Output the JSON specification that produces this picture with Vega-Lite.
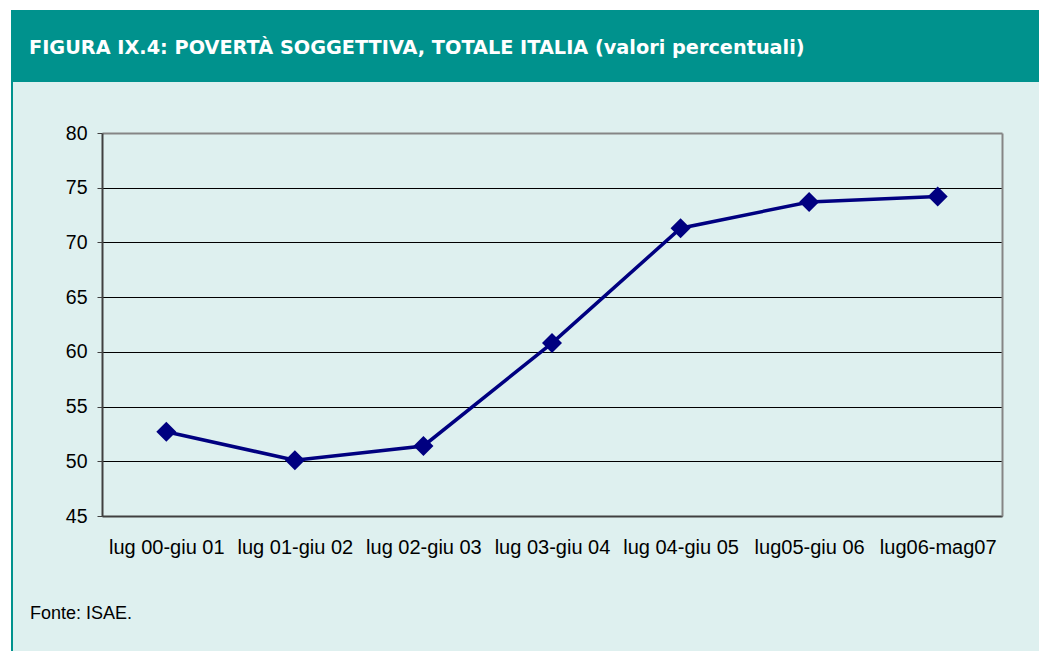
{
  "$schema": "https://vega.github.io/schema/vega-lite/v6.json",
  "background": "white",
  "padding": {"left": 11, "top": 10, "right": 0, "bottom": 0},
  "spacing": 0,
  "config": {"view": {"stroke": null}, "concat": {"spacing": 0}},
  "vconcat": [
    {
      "width": 1028,
      "height": 72,
      "view": {"fill": "#00928D", "stroke": null},
      "data": {"values": [{"t": "FIGURA IX.4: POVERTÀ SOGGETTIVA, TOTALE ITALIA (valori percentuali)"}]},
      "mark": {"type": "text", "align": "left", "baseline": "middle", "dx": 18, "dy": 2, "font": "DejaVu Sans", "fontWeight": "bold", "fontSize": 19.3, "color": "white"},
      "encoding": {
        "text": {"field": "t"},
        "x": {"datum": 0, "type": "quantitative", "scale": {"domain": [0, 1]}, "axis": null}
      }
    },
    {
      "spacing": 0,
      "hconcat": [
        {
          "width": 2,
          "height": 569,
          "view": {"fill": "#00928D", "stroke": null},
          "data": {"values": [{"a": 1}]},
          "mark": {"type": "text", "text": ""},
          "encoding": {}
        },
        {
          "width": 1026,
          "height": 569,
          "view": {"fill": "#DEF0EF", "stroke": null},
          "title": {"text": "Fonte: ISAE.", "orient": "bottom", "anchor": "start", "frame": "group", "offset": -37, "dx": 17, "baseline": "middle", "font": "Liberation Sans", "fontSize": 18, "fontWeight": "normal", "color": "black"},
          "data": {"values": [
            {"periodo": "lug 00-giu 01", "valore": 52.7},
            {"periodo": "lug 01-giu 02", "valore": 50.1},
            {"periodo": "lug 02-giu 03", "valore": 51.4},
            {"periodo": "lug 03-giu 04", "valore": 60.8},
            {"periodo": "lug 04-giu 05", "valore": 71.3},
            {"periodo": "lug05-giu 06", "valore": 73.7},
            {"periodo": "lug06-mag07", "valore": 74.2}
          ]},
          "encoding": {
            "x": {
              "field": "periodo", "type": "ordinal", "sort": null,
              "scale": {"range": [89, 989]},
              "axis": {"orient": "bottom", "offset": -135, "title": null, "labelAngle": 0, "ticks": false, "tickSize": 0, "labelPadding": 31, "labelBaseline": "middle", "labelFont": "Liberation Sans", "labelFontSize": 20, "labelColor": "black", "domainColor": "#404040", "domainWidth": 2, "grid": false}
            }
          },
          "layer": [
            {
              "mark": {"type": "line", "color": "#000080", "strokeWidth": 3.5},
              "encoding": {
                "y": {
                  "field": "valore", "type": "quantitative",
                  "scale": {"domain": [45, 80], "range": [434, 51], "nice": false, "zero": false},
                  "axis": {"orient": "left", "offset": -89, "title": null, "values": [45, 50, 55, 60, 65, 70, 75, 80], "grid": true,
                    "gridColor": {"condition": {"test": "datum.value >= 80", "value": "#858585"}, "value": "#000000"},
                    "gridWidth": {"condition": {"test": "datum.value >= 80", "value": 2}, "value": 1},
                    "domainColor": "#404040", "domainWidth": 2, "tickColor": "#404040", "tickSize": 5, "tickWidth": 1,
                    "labelFont": "Liberation Sans", "labelFontSize": 19.5, "labelColor": "black", "labelPadding": 10}
                }
              }
            },
            {
              "mark": {"type": "point", "shape": "diamond", "filled": true, "size": 400, "color": "#000080", "opacity": 1},
              "encoding": {
                "y": {
                  "field": "valore", "type": "quantitative",
                  "scale": {"domain": [45, 80], "range": [434, 51], "nice": false, "zero": false},
                  "axis": {"orient": "right", "offset": -37, "title": null, "labels": false, "ticks": false, "grid": false, "domainColor": "#858585", "domainWidth": 2}
                }
              }
            }
          ],
          "resolve": {"axis": {"y": "independent"}}
        }
      ]
    }
  ]
}
